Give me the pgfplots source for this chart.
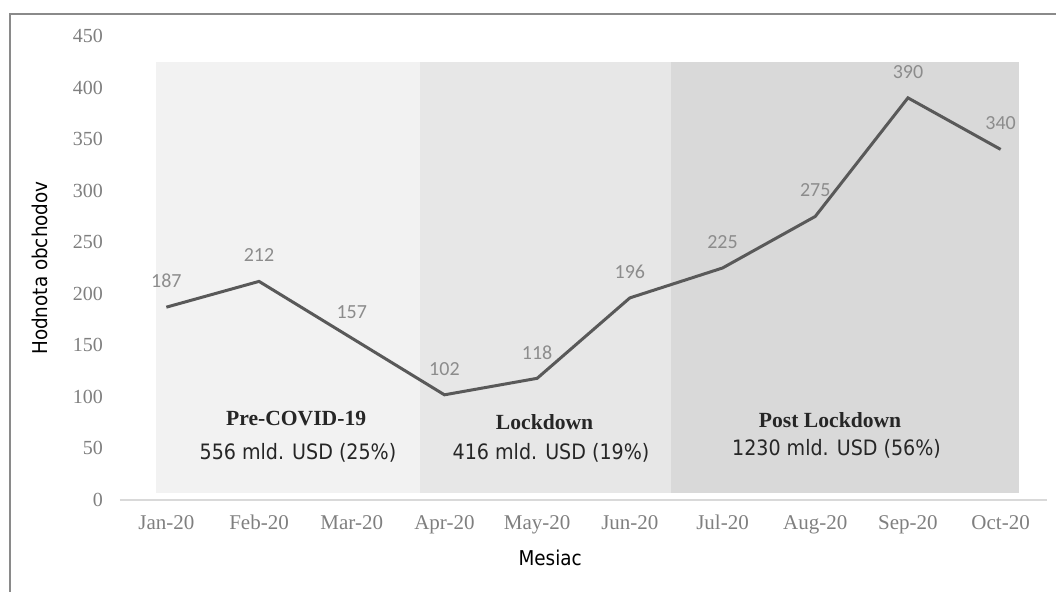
\documentclass[border=0pt]{standalone}
\usepackage{pgfplots}
\pgfplotsset{compat=1.18}
\usepackage{fontspec}
\setmainfont{Liberation Serif}
\newfontfamily\condsans{DejaVu Sans Condensed}
\newfontfamily\calib{Carlito}

\definecolor{preshade}{HTML}{F2F2F2}
\definecolor{lockshade}{HTML}{E7E7E7}
\definecolor{postshade}{HTML}{D9D9D9}
\definecolor{linegray}{HTML}{595959}
\definecolor{ticktext}{HTML}{7F7F7F}
\definecolor{valtext}{HTML}{8C8C8C}
\definecolor{frame}{HTML}{8A8A8A}
\definecolor{phasetext}{HTML}{262626}

\begin{document}
\begin{tikzpicture}
\useasboundingbox (-60pt,-46pt) rectangle (468pt,250pt);
\begin{axis}[
  scale only axis,
  width=463.5pt, height=232pt,
  xmin=-0.5, xmax=9.5,
  ymin=0, ymax=450,
  ytick={0,50,...,450},
  xtick={0,...,9},
  xticklabels={Jan-20,Feb-20,Mar-20,Apr-20,May-20,Jun-20,Jul-20,Aug-20,Sep-20,Oct-20},
  axis x line*=bottom, axis y line*=left,
  x axis line style={draw=gray!30, line width=0.75pt, -},
  y axis line style={draw=none},
  major tick length=0pt,
  tick style={draw=none},
  /pgf/number format/assume math mode=true,
  yticklabel style={font=\fontsize{10}{12}\selectfont, text=ticktext, xshift=-5pt},
  xticklabel style={font=\fontsize{10.5}{12}\selectfont, text=ticktext, yshift=-4pt},
  xlabel={Mesiac},
  ylabel={Hodnota obchodov},
  every axis x label/.style={at={(axis description cs:0.464,-0.125)}, anchor=center,
    font=\condsans\fontsize{10.2}{12}\selectfont},
  every axis y label/.style={at={(axis description cs:-0.0863,0.5)}, anchor=center, rotate=90,
    font=\condsans\fontsize{10.2}{12}\selectfont},
  clip=false,
]
% phase backgrounds
\addplot[fill=preshade, draw=none] coordinates {(-0.11,7) (2.74,7) (2.74,425) (-0.11,425)} -- cycle;
\addplot[fill=lockshade, draw=none] coordinates {(2.74,7) (5.44,7) (5.44,425) (2.74,425)} -- cycle;
\addplot[fill=postshade, draw=none] coordinates {(5.44,7) (9.2,7) (9.2,425) (5.44,425)} -- cycle;

% monthly trade value
\addplot[color=linegray, line width=1.5pt, mark=none,
  nodes near coords,
  every node near coord/.append style={anchor=center, yshift=13pt,
    font=\calib\fontsize{10}{12}\selectfont, text=valtext}]
  coordinates {
  (0,187) (1,212) (2,157) (3,102) (4,118)
  (5,196) (6,225) (7,275) (8,390) (9,340)
  };

% phase captions
\node[font=\bfseries\fontsize{10.8}{12}\selectfont, text=phasetext] at (axis cs:1.40,78.6) {Pre-COVID-19};
\node[font=\condsans\fontsize{10.6}{12}\selectfont, text=phasetext] at (axis cs:1.42,45.6) {556 mld. USD (25\%)};
\node[font=\bfseries\fontsize{10.8}{12}\selectfont, text=phasetext] at (axis cs:4.08,75.6) {Lockdown};
\node[font=\condsans\fontsize{10.6}{12}\selectfont, text=phasetext] at (axis cs:4.15,45.6) {416 mld. USD (19\%)};
\node[font=\bfseries\fontsize{10.8}{12}\selectfont, text=phasetext] at (axis cs:7.16,77.6) {Post Lockdown};
\node[font=\condsans\fontsize{10.6}{12}\selectfont, text=phasetext] at (axis cs:7.23,49.5) {1230 mld. USD (56\%)};
\end{axis}
% outer frame
\draw[frame, line width=1pt] (-55pt,-50pt) -- (-55pt,243pt) -- (472pt,243pt);
\end{tikzpicture}
\end{document}
